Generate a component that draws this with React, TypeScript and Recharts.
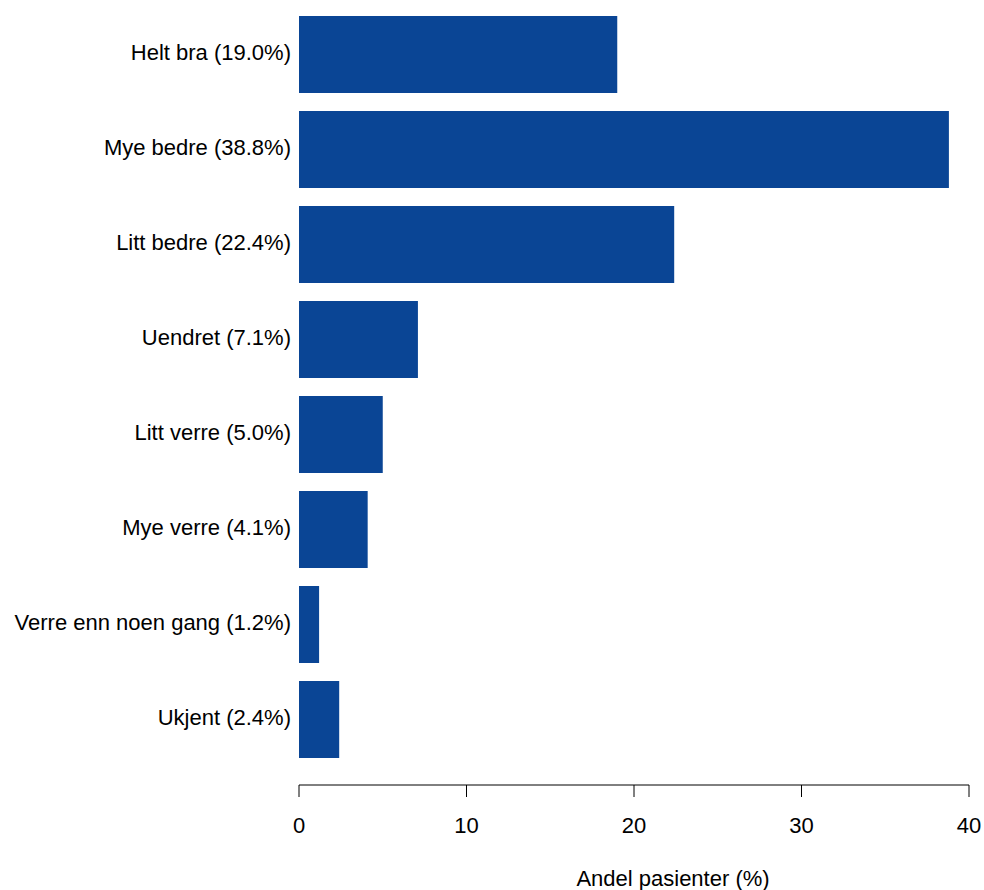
import { BarChart, Bar, XAxis, YAxis } from "recharts";

// Svar på spørsmål om tilstand, andel pasienter (%)
const categories = [
  "Helt bra",
  "Mye bedre",
  "Litt bedre",
  "Uendret",
  "Litt verre",
  "Mye verre",
  "Verre enn noen gang",
  "Ukjent",
];
const shares = [19.0, 38.8, 22.4, 7.1, 5.0, 4.1, 1.2, 2.4];
const xTicks = [0, 10, 20, 30, 40];

const barColor = "#0A4595";
const font = "'Liberation Sans', Arial, sans-serif";

const data = categories.map((name, i) => ({
  label: `${name} (${shares[i].toFixed(1)}%)`,
  value: shares[i],
}));

export default function App() {
  return (
    <div style={{ position: "absolute", left: 0, top: 0, fontFamily: font }}>
      <BarChart
        width={984}
        height={890}
        data={data}
        layout="vertical"
        margin={{ top: 7, right: 15, bottom: 0, left: 0 }}
        barCategoryGap={9}
      >
        <XAxis
          type="number"
          domain={[0, 40]}
          ticks={xTicks}
          height={105}
          tickSize={12}
          tickMargin={20}
          stroke="#000"
          tick={{ fill: "#000", fontSize: 22, fontFamily: font }}
          axisLine={{ stroke: "#000", strokeWidth: 1 }}
          tickLine={{ stroke: "#000", strokeWidth: 1 }}
          label={{
            value: "Andel pasienter (%)",
            position: "insideBottom",
            offset: 4,
            dx: 39,
            fill: "#000",
            fontSize: 22,
            fontFamily: font,
          }}
        />
        <YAxis
          type="category"
          dataKey="label"
          width={299}
          axisLine={false}
          tickLine={false}
          padding={{ top: 0, bottom: 18 }}
          tick={{ fill: "#000", fontSize: 22, fontFamily: font, dy: -2 }}
        />
        <Bar dataKey="value" fill={barColor} isAnimationActive={false} />
      </BarChart>
    </div>
  );
}
